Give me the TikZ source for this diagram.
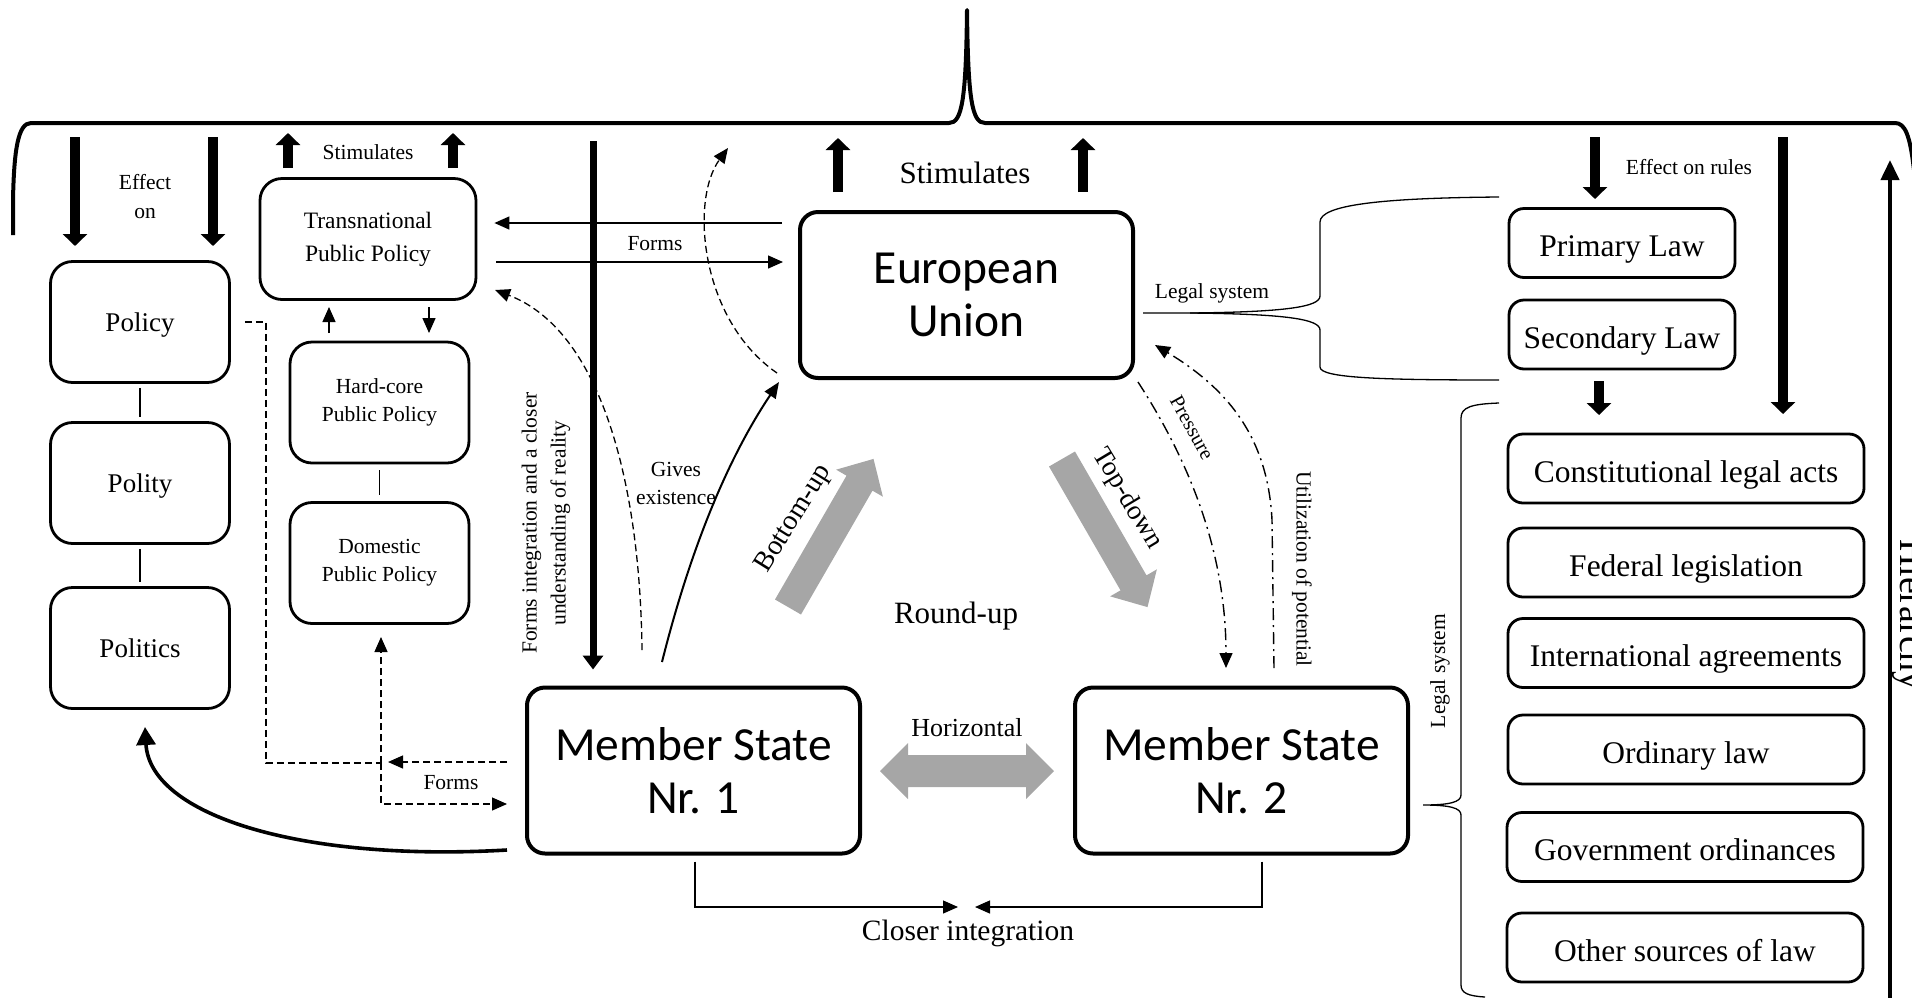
\documentclass[tikz,border=0pt]{standalone}
\usepackage{fontspec}
\newfontfamily\tnr{Liberation Serif}
\newfontfamily\calfont{Carlito}
\usetikzlibrary{arrows.meta,calc}
\definecolor{gfill}{HTML}{A6A6A6}
\tikzset{
  lbl/.style={inner sep=0pt, align=center, font=\tnr\fontsize{21.5}{28}\selectfont},
  sbox/.style={draw, line width=2.8pt, rounded corners=22pt, align=center, inner sep=0pt,
    font=\tnr\fontsize{27}{32}\selectfont, minimum width=179pt, minimum height=121pt,
    text depth=0pt},
  pbox/.style={draw, line width=2.8pt, rounded corners=22pt, align=center, inner sep=0pt,
    font=\tnr\fontsize{21.5}{28}\selectfont, minimum width=179pt, minimum height=121pt},
  mbox/.style={draw, line width=4pt, rounded corners=18pt, align=center, inner sep=0pt,
    font=\calfont\fontsize{47.5}{53}\selectfont, minimum width=333pt, minimum height=166pt},
  lawbox/.style={draw, line width=2.8pt, rounded corners=15pt, align=center, inner sep=0pt,
    font=\tnr\fontsize{31.5}{36}\selectfont, minimum height=69pt, text height=27pt, text depth=0pt},
  fat/.style={line width=10pt, -{Triangle[width=24pt,length=12pt]}},
  tarr/.style={line width=1.4pt, -{Triangle[width=13pt,length=15pt]}},
  thinl/.style={line width=1.3pt},
  dsh/.style={line width=1.3pt, dash pattern=on 7pt off 4pt},
  ddot/.style={line width=1.4pt, dash pattern=on 12pt off 5pt on 2pt off 5pt},
  gray arrow/.style={fill=gfill, draw=none},
  brace/.style={line width=1.3pt},
}
\begin{document}
\begin{tikzpicture}[x=1pt,y=-1pt]
\useasboundingbox (0,0) rectangle (1912,997);
\clip (0,0) rectangle (1912,997);

% ---------- top brace ----------
\draw[line width=4pt, line join=round] (13,235) -- (13,200) .. controls (14,150) and (18,123) .. (31,123)
  -- (949,123) .. controls (962,123) and (966,100) .. (967,10)
  .. controls (968,100) and (972,123) .. (985,123)
  -- (1895,123) .. controls (1905,123) and (1910,135) .. (1914,170);

% ---------- left column ----------
\node[sbox] (policy) at (140,322) {Policy};
\node[sbox] (polity) at (140,483) {Polity};
\node[sbox] (politics) at (140,648) {Politics};
\draw[thinl, shorten <=4pt, shorten >=4pt] (policy) -- (polity);
\draw[thinl, shorten <=4pt, shorten >=4pt] (polity) -- (politics);
\draw[fat] (75,137) -- (75,246);
\draw[fat] (213,137) -- (213,246);
\node[lbl, font=\tnr\fontsize{21.5}{29}\selectfont] (effon) at (145,196.5) {Effect\\on};

% ---------- public policy column ----------
\node[pbox, font=\tnr\fontsize{23.5}{33}\selectfont, minimum width=216pt] (tpp) at (368,239) {Transnational\\Public Policy};
\node[pbox] (hc) at (379.5,402.5) {Hard-core\\Public Policy};
\node[pbox] (dom) at (379.5,563) {Domestic\\Public Policy};
\draw[fat] (288,168) -- (288,133);
\draw[fat] (453,168) -- (453,133);
\node[lbl] (stim1) at (368,152) {Stimulates};
\draw[tarr] (329,333) -- (329,307);
\draw[tarr] (429,307) -- (429,333);
\draw[thinl, shorten <=6pt, shorten >=6pt] (hc) -- (dom);

% ---------- main boxes ----------
\node[mbox] (eu) at (966.5,295) {European\\Union};
\node[mbox] (ms1) at (693.5,770.5) {Member State\\Nr. 1};
\node[mbox] (ms2) at (1241.5,770.5) {Member State\\Nr. 2};

\draw[fat] (838,192) -- (838,138);
\draw[fat] (1083,192) -- (1083,138);
\node[lbl, font=\tnr\fontsize{31}{36}\selectfont] (stim2) at (965,173) {Stimulates};

% Forms (EU <-> Transnational)
\draw[tarr, shorten <=16pt, shorten >=17pt] (eu.west |- 0,223) -- (tpp.east |- 0,223);
\draw[tarr, shorten <=19pt, shorten >=15pt] (tpp.east |- 0,262) -- (eu.west |- 0,262);
\node[lbl] (forms1) at (655,244) {Forms};

% thick vertical
\coordinate (fiTop) at (593,141);
\draw[line width=7pt, -{Triangle[width=20pt,length=14pt]}] (fiTop) -- (ms1.north -| fiTop) [shorten >=16pt];
\node[inner sep=0pt, align=center, rotate=90, font=\tnr\fontsize{21.5}{29}\selectfont] (fitext) at (546,523)
  {Forms integration and a closer\\understanding of reality};

% dashed curves
\draw[dsh, -{Triangle[width=13pt,length=15pt]}] (642,650) .. controls (640,480) and (600,330) .. (495,290);
\draw[dsh, -{Triangle[width=13pt,length=15pt]}] (777,373) .. controls (700,320) and (690,200) .. (728,148);
\node[lbl] (gives) at (676,483) {Gives\\existence};
% solid curve MS1 -> EU
\draw[line width=2pt, -{Triangle[width=13pt,length=16pt]}] (662,662) .. controls (685,570) and (720,470) .. (779,382);

% gray arrows
\begin{scope}[shift={(788,607)}, rotate=60]
  \fill[gray arrow] (0,-15) -- (143,-15) -- (143,-27) -- (171,0) -- (143,27) -- (143,15) -- (0,15) -- cycle;
\end{scope}
\begin{scope}[shift={(1062,459)}, rotate=-60]
  \fill[gray arrow] (0,-15) -- (143,-15) -- (143,-27) -- (171,0) -- (143,27) -- (143,15) -- (0,15) -- cycle;
\end{scope}
\fill[gray arrow] (880,771) -- (908,743) -- (908,755) -- (1026,755) -- (1026,743) -- (1054,771)
  -- (1026,799) -- (1026,787) -- (908,787) -- (908,799) -- cycle;
\node[lbl, font=\tnr\fontsize{28}{32}\selectfont, rotate=58] (bu) at (794,519) {Bottom-up};
\node[lbl, font=\tnr\fontsize{27.5}{32}\selectfont, rotate=-59] (td) at (1127,499) {Top-down};
\node[lbl, font=\tnr\fontsize{26}{30}\selectfont] (horiz) at (967,728) {Horizontal};
\node[lbl, font=\tnr\fontsize{31}{36}\selectfont] (roundup) at (956,616) {Round-up};

% pressure / utilization
\draw[ddot, -{Triangle[width=13pt,length=15pt]}] (1138,382) .. controls (1195,470) and (1226,560) .. (1226,668);
\draw[ddot, -{Triangle[width=13pt,length=15pt]}] (1274,668) -- (1272,520) .. controls (1268,440) and (1230,390) .. (1155,345);
\node[lbl, rotate=-61, font=\tnr\fontsize{20.5}{24}\selectfont] (press) at (1192,428) {Pressure};
\node[lbl, rotate=-90] (util) at (1302,569) {Utilization of potential};

% closer integration
\coordinate (ci1) at (958,907);
\coordinate (ci2) at (975,907);
\draw[thinl, -{Triangle[width=13pt,length=15pt]}] ($(ms1.south)+(1.5,6)$) |- (ci1);
\draw[thinl, -{Triangle[width=13pt,length=15pt]}] ($(ms2.south)+(20.5,6)$) |- (ci2);
\node[lbl, font=\tnr\fontsize{29.5}{34}\selectfont] (closer) at (968,933) {Closer integration};

% dashed connections MS1 -> domestic / policy
\coordinate (jn) at (381,763);
\draw[dsh] ($(policy.east)+(14,0)$) -- (266,322) -- (266,763) -- (jn);
\draw[dsh, -{Triangle[width=13pt,length=15pt]}] ($(ms1.west)+(-18,-8.5)$) -- (388,762);
\draw[dsh, -{Triangle[width=13pt,length=15pt]}] (jn) -- (381,637);
\draw[dsh, -{Triangle[width=13pt,length=15pt]}] (jn) -- (381,804) -- ($(ms1.west)+(-18,33.5)$);
\node[lbl] (forms2) at (451,783) {Forms};
% thick curve MS1 -> Politics
\draw[line width=3.6pt, -{Triangle[width=19pt,length=18pt]}] ($(ms1.west)+(-18,79.5)$) .. controls (300,862) and (150,815) .. (145,727);

% ---------- right side ----------
\node[lawbox, minimum width=226pt] (prim) at (1622,243) {Primary Law};
\node[lawbox, minimum width=226pt] (sec) at (1622,334.5) {Secondary Law};
\node[lawbox, minimum width=356pt] (const) at (1686,468.5) {Constitutional legal acts};
\node[lawbox, minimum width=356pt] (fed) at (1686,562.5) {Federal legislation};
\node[lawbox, minimum width=356pt] (intl) at (1686,653) {International agreements};
\node[lawbox, minimum width=356pt] (ord) at (1686,749.5) {Ordinary law};
\node[lawbox, minimum width=356pt] (gov) at (1685,847) {Government ordinances};
\node[lawbox, minimum width=356pt] (oth) at (1685,947.5) {Other sources of law};

\draw[fat] (1595,137) -- (1595,199);
\draw[fat] (1783,137) -- (1783,414);
\draw[fat] (1599,381) -- (1599,415);
\node[lbl] (effrules) at (1689,167) {Effect on rules};

\draw[line width=4pt, -{Triangle[width=18pt,length=20pt]}] (1890,1005) -- (1890,160);
\node[anchor=base, rotate=-90, inner sep=0pt, font=\tnr\fontsize{38}{44}\selectfont] (hier) at (1900,615) {Hierarchy};

% EU legal system brace
\draw[brace] ($(eu.east)+(8,18)$) -- (1190,313) .. controls (1285,312) and (1320,307) .. (1320,296)
  -- (1320,222) .. controls (1320,205) and (1380,198) .. (1499,197);
\draw[brace] (1190,313) .. controls (1285,314) and (1320,319) .. (1320,330)
  -- (1320,367) .. controls (1320,378) and (1380,380) .. (1499,380);
\node[lbl] (ls1) at (1212,293) {Legal system};

% national legal system brace
\draw[brace] (1499,403) .. controls (1472,404) and (1461,407) .. (1461,418) -- (1461,795)
  .. controls (1461,802) and (1450,805) .. (1423,805)
  .. controls (1450,805) and (1461,808) .. (1461,815) -- (1461,985)
  .. controls (1461,993) and (1468,996) .. (1485,997);
\node[lbl, rotate=90] (ls2) at (1440,671) {Legal system};
\end{tikzpicture}
\end{document}
